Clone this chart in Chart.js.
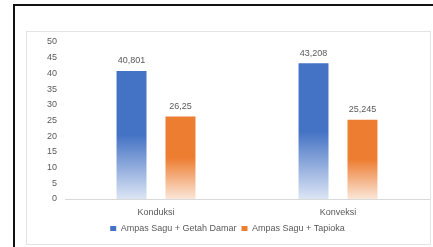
<!DOCTYPE html>
<html>
<head>
<meta charset="utf-8">
<script src="https://cdn.jsdelivr.net/npm/chart.js@4"></script>
<style>
  html, body { margin: 0; padding: 0; background: #fff; }
  #wrap { position: relative; width: 433px; height: 247px; overflow: hidden; }
  #outer { position: absolute; left: 13px; top: 4px; width: 440px; height: 260px;
           border-left: 2px solid #111; border-top: 2px solid #111; }
  #inner { position: absolute; left: 26px; top: 31px; width: 403px; height: 212px;
           border: 1px solid #e4e4e4; }
  canvas { position: absolute; left: 0; top: 0; }
</style>
</head>
<body>
<div id="wrap">
  <div id="outer"></div>
  <div id="inner"></div>
  <canvas id="c" width="433" height="247"></canvas>
</div>
<script>
const categories = ["Konduksi", "Konveksi"];
const seriesNames = ["Ampas Sagu + Getah Damar", "Ampas Sagu + Tapioka"];
const getahDamar = [40.801, 43.208];
const tapioka = [26.25, 25.245];
const yTicks = [0, 5, 10, 15, 20, 25, 30, 35, 40, 45, 50];

const solid = ["#4472C4", "#ED7D31"];
const light = ["#DCE5F5", "#FBE6D8"];
const FONT = "'Liberation Sans', Arial, sans-serif";
const TXT = "#595959";

function barGradient(ctx, dsIndex) {
  const chart = ctx.chart;
  const ys = chart.scales && chart.scales.y;
  if (!chart.chartArea || !ys || ctx.type !== 'data') return solid[dsIndex];
  const v = ctx.raw;
  const top = ys.getPixelForValue(v);
  const base = ys.getPixelForValue(0);
  if (!isFinite(top) || !isFinite(base) || base - top < 1) return solid[dsIndex];
  const g = chart.ctx.createLinearGradient(0, top, 0, base);
  g.addColorStop(0, solid[dsIndex]);
  g.addColorStop(0.5, solid[dsIndex]);
  g.addColorStop(1, light[dsIndex]);
  return g;
}

const valueLabels = {
  id: 'valueLabels',
  afterDatasetsDraw(chart) {
    const c = chart.ctx;
    c.save();
    c.font = "9px " + FONT;
    c.fillStyle = TXT;
    c.textAlign = 'center';
    c.textBaseline = 'middle';
    chart.data.datasets.forEach((ds, i) => {
      chart.getDatasetMeta(i).data.forEach((bar, j) => {
        const txt = String(ds.data[j]).replace('.', ',');
        c.fillText(txt, bar.x, bar.y - 10);
      });
    });
    c.restore();
  }
};

const chart = new Chart(document.getElementById('c'), {
  type: 'bar',
  data: {
    labels: categories,
    datasets: [
      { label: seriesNames[0], data: getahDamar,
        backgroundColor: (ctx) => barGradient(ctx, 0),
        categoryPercentage: 0.538, barPercentage: 0.612 },
      { label: seriesNames[1], data: tapioka,
        backgroundColor: (ctx) => barGradient(ctx, 1),
        categoryPercentage: 0.538, barPercentage: 0.612 }
    ]
  },
  options: {
    responsive: false,
    animation: false,
    devicePixelRatio: 1,
    layout: { padding: { left: 26, right: 4, top: 42, bottom: 4 } },
    scales: {
      x: {
        grid: { display: false, drawTicks: false },
        border: { display: true, color: "#d9d9d9", width: 1 },
        ticks: { color: TXT, font: { family: FONT, size: 9 }, padding: 8 },
        afterFit(s) { s.height = 20; }
      },
      y: {
        min: 0, max: 50,
        afterBuildTicks(s) { s.ticks = yTicks.map(v => ({ value: v })); },
        grid: { display: false, drawTicks: false },
        border: { display: false },
        ticks: { color: TXT, font: { family: FONT, size: 9 }, padding: 8 },
        afterFit(s) { s.width = 39; }
      }
    },
    plugins: {
      legend: {
        position: 'bottom',
        labels: { color: TXT, font: { family: FONT, size: 9 }, boxWidth: 6, boxHeight: 5,
                  padding: 5, useBorderRadius: false,
                  generateLabels(chart) {
                    return chart.data.datasets.map((ds, i) => ({
                      text: ds.label, fillStyle: solid[i], strokeStyle: solid[i],
                      lineWidth: 0, hidden: false, datasetIndex: i, fontColor: TXT
                    }));
                  } }
      },
      tooltip: { enabled: false }
    }
  },
  plugins: [valueLabels]
});
chart.update('none');
</script>
</body>
</html>
